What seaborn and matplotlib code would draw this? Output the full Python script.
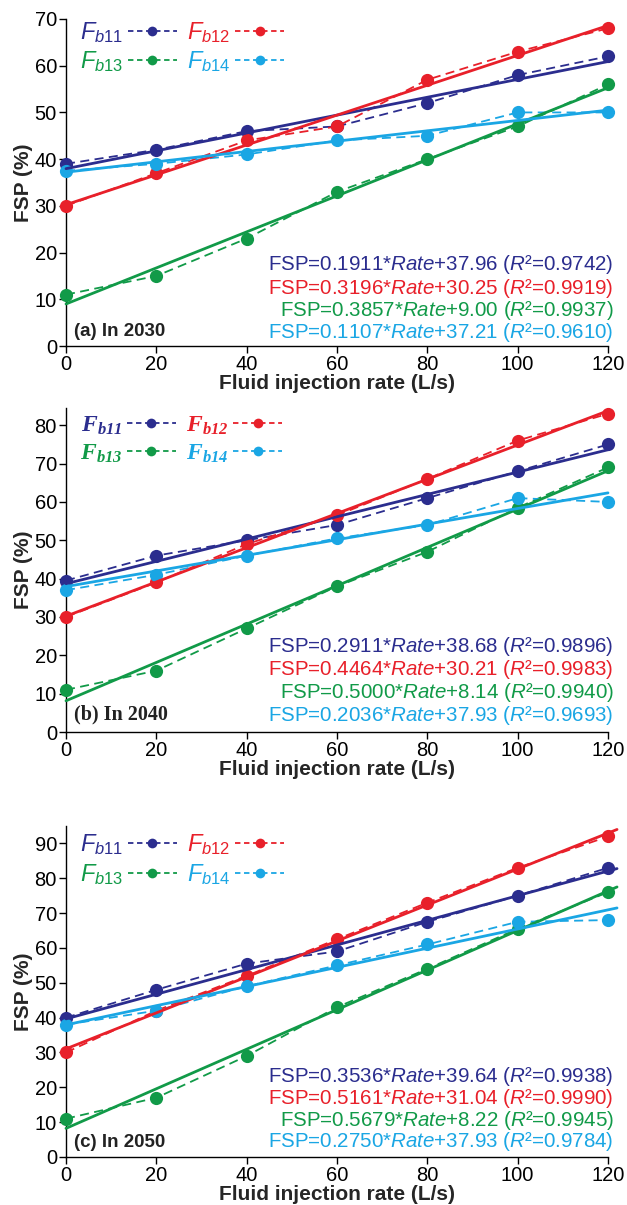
import matplotlib
matplotlib.use("Agg")
import matplotlib.pyplot as plt
import seaborn as sns
import pandas as pd
from matplotlib.lines import Line2D

# ---------------- data ----------------
rates = [0, 20, 40, 60, 80, 100, 120]
series = ["Fb11", "Fb12", "Fb13", "Fb14"]

fb11_2030 = [39, 42, 46, 47, 52, 58, 62]
fb12_2030 = [30, 37, 44, 47, 57, 63, 68]
fb13_2030 = [11, 15, 23, 33, 40, 47, 56]
fb14_2030 = [37.5, 39, 41, 44, 45, 50, 50]

fb11_2040 = [39.5, 46, 50, 54, 61, 68, 75]
fb12_2040 = [30, 39, 49, 56.5, 66, 76, 83]
fb13_2040 = [11, 16, 27, 38, 47, 58.5, 69]
fb14_2040 = [37, 41, 46, 50.5, 54, 61, 60]

fb11_2050 = [40, 48, 55.5, 59, 67.5, 75, 83]
fb12_2050 = [30, 42, 52, 62.5, 73, 83, 92]
fb13_2050 = [11, 17, 29, 43, 54, 65.5, 76]
fb14_2050 = [38, 42, 49, 55, 61, 67.5, 68]

slope_2030 = [0.1911, 0.3196, 0.3857, 0.1107]
icpt_2030 = [37.96, 30.25, 9.00, 37.21]
r2_2030 = [0.9742, 0.9919, 0.9937, 0.9610]

slope_2040 = [0.2911, 0.4464, 0.5000, 0.2036]
icpt_2040 = [38.68, 30.21, 8.14, 37.93]
r2_2040 = [0.9896, 0.9983, 0.9940, 0.9693]

slope_2050 = [0.3536, 0.5161, 0.5679, 0.2750]
icpt_2050 = [39.64, 31.04, 8.22, 37.93]
r2_2050 = [0.9938, 0.9990, 0.9945, 0.9784]

fit_x_2030 = [0, 120]
fit_x_2040 = [0, 120]
fit_x_2050 = [0, 122]

panel_titles = ["(a) In 2030", "(b) In 2040", "(c) In 2050"]
x_label = "Fluid injection rate (L/s)"
y_label = "FSP (%)"

colors = ["#2b2d8e", "#e8202a", "#119a48", "#1aa6e4"]

# ---------------- style ----------------
sns.set_style("ticks")
plt.rcParams["font.family"] = ["Liberation Sans", "DejaVu Sans"]
plt.rcParams["mathtext.fontset"] = "custom"
plt.rcParams["mathtext.rm"] = "Liberation Sans"
plt.rcParams["mathtext.it"] = "Liberation Sans:italic"
plt.rcParams["mathtext.bf"] = "Liberation Sans:bold"
plt.rcParams["mathtext.sf"] = "Liberation Serif:italic:bold"

fig = plt.figure(figsize=(6.27, 12.05), dpi=100)

W, H = 627, 1205
left_px, right_px = 66, 608
panels = [
    dict(top=19, bottom=346, ymax=70, data=[fb11_2030, fb12_2030, fb13_2030, fb14_2030],
         slope=slope_2030, icpt=icpt_2030, r2=r2_2030, fit_x=fit_x_2030,
         leg_mid=64.0, eq_y=[17.5, 12.3, 7.6, 2.9], lab_y=3.0, serif=False),
    dict(top=408, bottom=732, ymax=84.5, data=[fb11_2040, fb12_2040, fb13_2040, fb14_2040],
         slope=slope_2040, icpt=icpt_2040, r2=r2_2040, fit_x=fit_x_2040,
         leg_mid=76.3, eq_y=[22.4, 16.3, 10.4, 4.4], lab_y=4.6, serif=True),
    dict(top=826, bottom=1157, ymax=95, data=[fb11_2050, fb12_2050, fb13_2050, fb14_2050],
         slope=slope_2050, icpt=icpt_2050, r2=r2_2050, fit_x=fit_x_2050,
         leg_mid=85.3, eq_y=[23.0, 16.8, 10.6, 4.4], lab_y=4.3, serif=False),
]

for pi, p in enumerate(panels):
    ax = fig.add_axes([left_px / W, 1 - p["bottom"] / H,
                       (right_px - left_px) / W, (p["bottom"] - p["top"]) / H])
    rows = []
    for name, vals in zip(series, p["data"]):
        for r, v in zip(rates, vals):
            rows.append(dict(rate=r, fsp=v, series=name))
    df = pd.DataFrame(rows)

    for i, name in enumerate(series):
        sub = df[df.series == name]
        sns.lineplot(data=sub, x="rate", y="fsp", ax=ax, color=colors[i],
                     linestyle=(0, (5, 3)), linewidth=1.3, marker="o",
                     markersize=9.5, markeredgewidth=0, clip_on=False, zorder=3)
    for i, name in enumerate(series):
        fx = p["fit_x"]
        fy = [p["slope"][i] * x + p["icpt"][i] for x in fx]
        sns.lineplot(x=fx, y=fy, ax=ax, color=colors[i], linewidth=2.0,
                     clip_on=False, zorder=4)

    ax.set_xlim(0, 120)
    ax.set_ylim(0, p["ymax"])
    ax.set_xticks(rates)
    ax.set_yticks(range(0, int(p["ymax"]) + 1, 10))
    sns.despine(ax=ax)
    for sp in ("left", "bottom"):
        ax.spines[sp].set_linewidth(1.0)
        ax.spines[sp].set_color("black")
    ax.tick_params(direction="out", length=5, width=1, labelsize=14.5,
                   colors="black", pad=1.5)
    ax.set_xlabel(x_label, fontsize=15, fontweight="bold", labelpad=0)
    ax.set_ylabel(y_label, fontsize=15, fontweight="bold", labelpad=1)

    # legend (row-wise order: Fb11 Fb12 / Fb13 Fb14)
    order = [0, 2, 1, 3]
    handles = [Line2D([], [], color=colors[k], linestyle=(0, (3, 2)), linewidth=1.3,
                      marker="o", markersize=7, markeredgewidth=0) for k in order]
    if p["serif"]:
        labels = [r"$\mathsf{F}_{\mathsf{%s}}$" % series[k][1:] for k in order]
    else:
        labels = [r"$\mathit{F}_{\mathit{%s}}$" % series[k][1:] for k in order]
    ax.legend(handles, labels, ncol=2, markerfirst=False, frameon=False,
              loc="center left", bbox_to_anchor=(3.0, p["leg_mid"]),
              bbox_transform=ax.transData,
              handlelength=2.1, handletextpad=0.2, columnspacing=0.4,
              labelspacing=0.2, fontsize=17, labelcolor="linecolor",
              borderaxespad=0, borderpad=0)

    # equations
    for i in range(4):
        s = (r"FSP=%.4f*$\mathit{Rate}$+%.2f ($\mathit{R}$²=%.4f)"
             % (p["slope"][i], p["icpt"][i], p["r2"][i]))
        ax.text(121.3, p["eq_y"][i], s, ha="right", va="center", color=colors[i],
                fontsize=14.8)

    fam = ["Liberation Serif"] if p["serif"] else ["Liberation Sans"]
    ax.text(1.8, p["lab_y"], panel_titles[pi], ha="left", va="center",
            fontsize=14.5 if p["serif"] else 13.5, fontweight="bold", family=fam,
            color="#222222")

fig.savefig("out.png", dpi=100)
